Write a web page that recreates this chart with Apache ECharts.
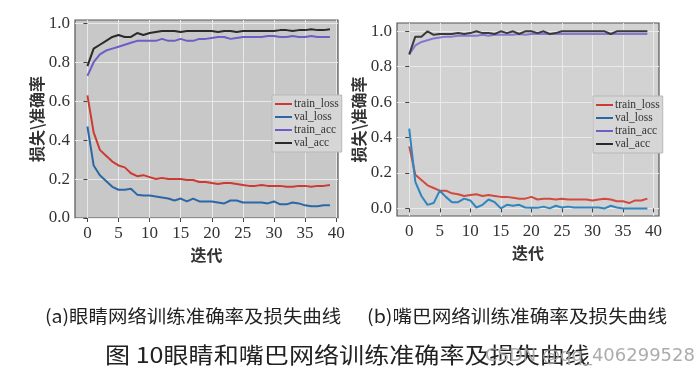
<!DOCTYPE html>
<html>
<head>
<meta charset="utf-8">
<script src="https://cdn.jsdelivr.net/npm/echarts@6/dist/echarts.min.js"></script>
<style>
  html, body { margin: 0; padding: 0; background: #fff; }
  #chart { width: 699px; height: 376px; }
</style>
</head>
<body>
<div id="chart"></div>
<script>
// epochs 0..39
const epochs = Array.from({length: 40}, (_, i) => i);
const xTicks = [0, 5, 10, 15, 20, 25, 30, 35, 40];
const yTicks = [0, 0.2, 0.4, 0.6, 0.8, 1.0];
const seriesNames = ['train_loss', 'val_loss', 'train_acc', 'val_acc'];

// (a) eyes
const eyeTrainLoss = [0.63, 0.44, 0.35, 0.32, 0.29, 0.27, 0.26, 0.23, 0.215, 0.22, 0.21, 0.20, 0.205, 0.20, 0.20, 0.20, 0.195, 0.195, 0.185, 0.185,
  0.18, 0.175, 0.18, 0.18, 0.175, 0.17, 0.165, 0.165, 0.17, 0.165, 0.165, 0.165, 0.16, 0.16, 0.165, 0.165, 0.16, 0.165, 0.165, 0.17];
const eyeValLoss = [0.47, 0.27, 0.22, 0.19, 0.16, 0.145, 0.145, 0.15, 0.12, 0.115, 0.115, 0.11, 0.105, 0.10, 0.09, 0.10, 0.085, 0.10, 0.085, 0.085,
  0.085, 0.08, 0.075, 0.09, 0.09, 0.08, 0.08, 0.08, 0.08, 0.075, 0.085, 0.07, 0.07, 0.08, 0.075, 0.065, 0.06, 0.06, 0.065, 0.065];
const eyeTrainAcc = [0.73, 0.80, 0.84, 0.86, 0.87, 0.88, 0.89, 0.90, 0.91, 0.91, 0.91, 0.91, 0.92, 0.91, 0.91, 0.92, 0.91, 0.91, 0.92, 0.92,
  0.925, 0.93, 0.93, 0.92, 0.925, 0.93, 0.93, 0.93, 0.93, 0.935, 0.935, 0.93, 0.93, 0.935, 0.93, 0.93, 0.935, 0.93, 0.93, 0.93];
const eyeValAcc = [0.78, 0.87, 0.89, 0.91, 0.93, 0.94, 0.93, 0.93, 0.95, 0.94, 0.95, 0.955, 0.96, 0.96, 0.96, 0.955, 0.96, 0.96, 0.96, 0.96,
  0.96, 0.955, 0.96, 0.96, 0.955, 0.96, 0.96, 0.96, 0.96, 0.96, 0.96, 0.965, 0.965, 0.96, 0.965, 0.965, 0.97, 0.965, 0.965, 0.97];

// (b) mouth
const mouthTrainLoss = [0.35, 0.19, 0.16, 0.13, 0.115, 0.10, 0.10, 0.085, 0.08, 0.07, 0.075, 0.08, 0.07, 0.075, 0.07, 0.065, 0.065, 0.06, 0.055, 0.055,
  0.065, 0.05, 0.055, 0.055, 0.05, 0.055, 0.05, 0.05, 0.05, 0.05, 0.045, 0.05, 0.055, 0.05, 0.04, 0.04, 0.03, 0.045, 0.045, 0.055];
const mouthValLoss = [0.45, 0.15, 0.07, 0.02, 0.03, 0.10, 0.065, 0.035, 0.035, 0.055, 0.045, 0.005, 0.02, 0.05, 0.035, 0.0, 0.02, 0.015, 0.02, 0.005,
  0.003, 0.003, 0.01, 0.0, 0.015, 0.005, 0.01, 0.005, 0.005, 0.005, 0.005, 0.005, 0.0, 0.015, 0.005, 0.0, 0.0, 0.0, 0.0, 0.0];
const mouthTrainAcc = [0.87, 0.92, 0.94, 0.95, 0.96, 0.965, 0.97, 0.97, 0.975, 0.975, 0.975, 0.975, 0.98, 0.975, 0.98, 0.98, 0.98, 0.98, 0.985, 0.98,
  0.985, 0.985, 0.985, 0.985, 0.985, 0.985, 0.985, 0.985, 0.985, 0.985, 0.985, 0.985, 0.985, 0.985, 0.985, 0.985, 0.985, 0.985, 0.985, 0.985];
const mouthValAcc = [0.87, 0.97, 0.97, 1.0, 0.98, 0.985, 0.985, 0.985, 0.99, 0.985, 0.99, 1.0, 0.99, 0.99, 0.985, 1.0, 0.99, 1.0, 0.985, 1.0,
  1.0, 0.99, 1.0, 0.985, 0.99, 1.0, 1.0, 1.0, 1.0, 1.0, 1.0, 1.0, 1.0, 0.985, 1.0, 1.0, 1.0, 1.0, 1.0, 1.0];

const colors = ['#cc3b33', '#2b67a6', '#6a5ec8', '#2a2a2a'];
const colorsB = ['#d24a3e', '#2f86bf', '#8478d0', '#3a3a3a'];
const serif = '"Liberation Serif", "DejaVu Serif", serif';
const cjk = '"Noto Sans CJK SC", sans-serif';

function xAxis(idx) {
  return {
    type: 'value', gridIndex: idx, min: -2, max: idx === 0 ? 40.3 : 40.9,
    axisLine: { show: false },
    axisTick: { show: true, length: 4, lineStyle: { color: '#444' }, customValues: xTicks },
    axisLabel: { customValues: xTicks, color: '#333', fontSize: 17, fontFamily: serif, margin: 7 },
    splitLine: { show: true, lineStyle: { color: '#e9e9e9', width: 1 } },
    name: '迭代', nameLocation: 'middle', nameGap: 27,
    nameTextStyle: { fontFamily: cjk, fontSize: 16, fontWeight: 'bold', color: '#333' }
  };
}
function yAxis(idx, min, max) {
  return {
    type: 'value', gridIndex: idx, min: min, max: max,
    axisLine: { show: false },
    axisTick: { show: true, length: 4, lineStyle: { color: '#444' }, customValues: yTicks },
    axisLabel: { customValues: yTicks, color: '#333', fontSize: 17, fontFamily: serif, margin: 5,
      formatter: v => v.toFixed(1) },
    splitLine: { show: true, lineStyle: { color: '#e9e9e9', width: 1 } },
    name: '损失\\准确率', nameLocation: 'middle', nameGap: 30,
    nameTextStyle: { fontFamily: cjk, fontSize: 16, fontWeight: 'bold', color: '#333' }
  };
}
function lines(idx, data, cols) {
  return data.map((d, i) => ({
    name: seriesNames[i], type: 'line', xAxisIndex: idx, yAxisIndex: idx,
    data: epochs.map((e, k) => [e, d[k]]), showSymbol: false, symbol: 'none',
    lineStyle: { color: cols[i], width: 2 }, itemStyle: { color: cols[i] },
    animation: false
  }));
}
function legend(left, top) {
  return {
    left: left, top: top, orient: 'vertical', itemWidth: 17, itemHeight: 2, itemGap: 1,
    icon: 'rect', padding: [3, 3, 3, 3],
    backgroundColor: '#d6d6d6', borderColor: '#b8b8b8', borderWidth: 1,
    textStyle: { fontFamily: serif, fontSize: 11.5, color: '#333', padding: [0, 0, 0, -3] },
    data: seriesNames
  };
}

const myChart = echarts.init(document.getElementById('chart'));
const option = {
  backgroundColor: '#fff',
  grid: [
    { left: 75, top: 20, width: 263, height: 198, show: true, backgroundColor: '#c8c8c8', borderColor: '#555', borderWidth: 1.2 },
    { left: 397, top: 23, width: 262, height: 193, show: true, backgroundColor: '#d2d2d2', borderColor: '#555', borderWidth: 1.2 }
  ],
  xAxis: [xAxis(0), xAxis(1)],
  yAxis: [yAxis(0, 0, 1.017), yAxis(1, -0.043, 1.047)],
  legend: [legend(272, 95), legend(593, 96)],
  series: [
    ...lines(0, [eyeTrainLoss, eyeValLoss, eyeTrainAcc, eyeValAcc], colors),
    ...lines(1, [mouthTrainLoss, mouthValLoss, mouthTrainAcc, mouthValAcc], colorsB)
  ],
  graphic: [
    { type: 'text', x: 45, y: 307, scaleX: 1.08, style: { text: '(a)眼睛网络训练准确率及损失曲线', fontFamily: cjk, fontSize: 18, fill: '#222' } },
    { type: 'text', x: 367, y: 307, scaleX: 1.09, style: { text: '(b)嘴巴网络训练准确率及损失曲线', fontFamily: cjk, fontSize: 18, fill: '#222' } },
    { type: 'text', x: 105, y: 344, scaleX: 1.14, style: { text: '图 10眼睛和嘴巴网络训练准确率及损失曲线', fontFamily: cjk, fontSize: 22, fill: '#222' } },
    { type: 'text', x: 485, y: 347, style: { text: 'CSDN @qq_406299528', fontFamily: '"DejaVu Sans", sans-serif', fontSize: 18, fill: 'rgba(165,165,165,0.92)' } }
  ]
};
myChart.setOption(option);
</script>
</body>
</html>
